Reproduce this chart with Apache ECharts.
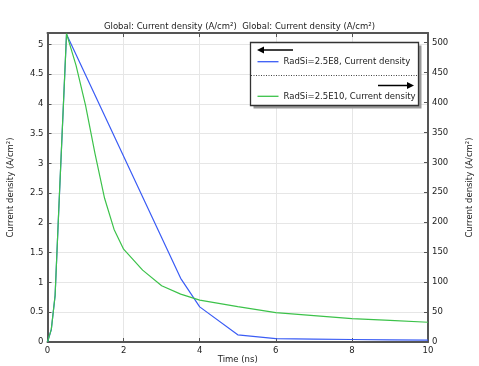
<!DOCTYPE html>
<html>
<head>
<meta charset="utf-8">
<script src="https://cdn.jsdelivr.net/npm/echarts@6/dist/echarts.min.js"></script>
<style>html,body{margin:0;padding:0;background:#fff}#c{width:479px;height:366px}</style>
</head>
<body>
<div id="c"></div>
<script>
var titleText = 'Global: Current density (A/cm²)  Global: Current density (A/cm²)';
var xName = 'Time (ns)';
var yName = 'Current density (A/cm²)';
var seriesNames = ['RadSi=2.5E8, Current density', 'RadSi=2.5E10, Current density'];
var timeBlue = [0, 0.1, 0.2, 0.3, 0.5, 3.5, 4, 5, 6, 7, 8, 9, 10];
var blueVals = [0, 0.21, 0.78, 2.27, 5.17, 1.07, 0.59, 0.12, 0.057, 0.048, 0.042, 0.037, 0.033];
var timeGreen = [0, 0.1, 0.2, 0.3, 0.5, 0.75, 1, 1.25, 1.5, 1.75, 2, 2.5, 3, 3.5, 4, 5, 6, 7, 8, 9, 10];
var greenVals = [0, 21, 78, 227, 515, 462, 395, 314, 240, 188, 155, 120, 94, 80, 70, 59, 49, 44, 39, 36, 33];

function pairs(xs, ys) { return xs.map(function (x, i) { return [x, ys[i]]; }); }

var FONT = 'DejaVu Sans';
var FS = 8.5;
var axisCol = '#555';
var chart = echarts.init(document.getElementById('c'), null, {renderer: 'canvas'});
chart.setOption({
  animation: false,
  textStyle: {fontFamily: FONT},
  title: {text: titleText, left: 'center', top: 17, textStyle: {fontSize: FS, fontWeight: 'normal', color: '#222', fontFamily: FONT}},
  grid: {left: 47.5, right: 51, top: 33, bottom: 24, containLabel: false, outerBoundsMode: 'none'},
  legend: {
    orient: 'vertical', left: 257.5, top: 56.7, padding: 0, itemWidth: 21, itemHeight: 1.3, itemGap: 24.6, z: 20,
    icon: 'rect',
    textStyle: {fontSize: FS, color: '#222', fontFamily: FONT, lineHeight: 10, height: 10}, data: seriesNames, selectedMode: false
  },
  xAxis: [{
    type: 'value', min: 0, max: 10, interval: 2, name: xName, nameLocation: 'middle', nameGap: 13, nameMoveOverlap: false,
    nameTextStyle: {fontSize: FS, color: '#222'},
    axisLine: {onZero: false, lineStyle: {color: axisCol, width: 2}},
    axisTick: {inside: true, length: 4, lineStyle: {color: axisCol}},
    axisLabel: {fontSize: FS, color: '#222', margin: 4},
    splitLine: {lineStyle: {color: '#e6e6e6'}}
  }, {
    type: 'value', position: 'top', min: 0, max: 10, interval: 2,
    axisLine: {onZero: false, lineStyle: {color: axisCol, width: 2}},
    axisTick: {inside: true, length: 4, lineStyle: {color: axisCol}},
    axisLabel: {show: false}, splitLine: {show: false}
  }],
  yAxis: [{
    type: 'value', min: 0, max: 5.19, interval: 0.5, name: yName, nameLocation: 'middle', nameGap: 32, nameRotate: 90,
    nameTextStyle: {fontSize: FS, color: '#222'},
    axisLine: {onZero: false, lineStyle: {color: axisCol, width: 2}},
    axisTick: {inside: true, length: 4, lineStyle: {color: axisCol}},
    axisLabel: {fontSize: FS, color: '#222', margin: 4, showMaxLabel: false},
    splitLine: {lineStyle: {color: '#e6e6e6'}}
  }, {
    type: 'value', position: 'right', min: 0, max: 516, interval: 50, name: yName, nameLocation: 'middle', nameGap: 37, nameRotate: 90,
    nameTextStyle: {fontSize: FS, color: '#222'},
    axisLine: {onZero: false, lineStyle: {color: axisCol, width: 2}},
    axisTick: {inside: true, length: 4, lineStyle: {color: axisCol}},
    axisLabel: {fontSize: FS, color: '#222', margin: 4, showMaxLabel: false},
    splitLine: {show: false}
  }],
  graphic: [
    {type: 'rect', shape: {x: 253.5, y: 45.5, width: 168, height: 63}, style: {fill: '#999'}, z: 10},
    {type: 'rect', shape: {x: 250.5, y: 42.5, width: 168, height: 63}, style: {fill: '#fff', stroke: '#333', lineWidth: 1.3}, z: 11},
    {type: 'line', shape: {x1: 251, y1: 75.5, x2: 418, y2: 75.5}, style: {stroke: '#444', lineWidth: 1, lineDash: [1, 1.5]}, z: 12},
    {type: 'line', shape: {x1: 263, y1: 50, x2: 293, y2: 50}, style: {stroke: '#000', lineWidth: 1.5}, z: 12},
    {type: 'polygon', shape: {points: [[257, 50], [264, 46.5], [264, 53.5]]}, style: {fill: '#000'}, z: 12},
    {type: 'line', shape: {x1: 378, y1: 85.5, x2: 408, y2: 85.5}, style: {stroke: '#000', lineWidth: 1.5}, z: 12},
    {type: 'polygon', shape: {points: [[414, 85.5], [407, 82], [407, 89]]}, style: {fill: '#000'}, z: 12}
  ],
  series: [{
    name: seriesNames[0], type: 'line', xAxisIndex: 0, yAxisIndex: 0, data: pairs(timeBlue, blueVals),
    showSymbol: false, symbol: 'none', lineStyle: {color: '#3a5cf5', width: 1.2}, itemStyle: {color: '#3a5cf5'}, z: 3
  }, {
    name: seriesNames[1], type: 'line', xAxisIndex: 0, yAxisIndex: 1, data: pairs(timeGreen, greenVals),
    showSymbol: false, symbol: 'none', lineStyle: {color: '#3cc24a', width: 1.2}, itemStyle: {color: '#3cc24a'}, z: 4
  }]
});
</script>
</body>
</html>
